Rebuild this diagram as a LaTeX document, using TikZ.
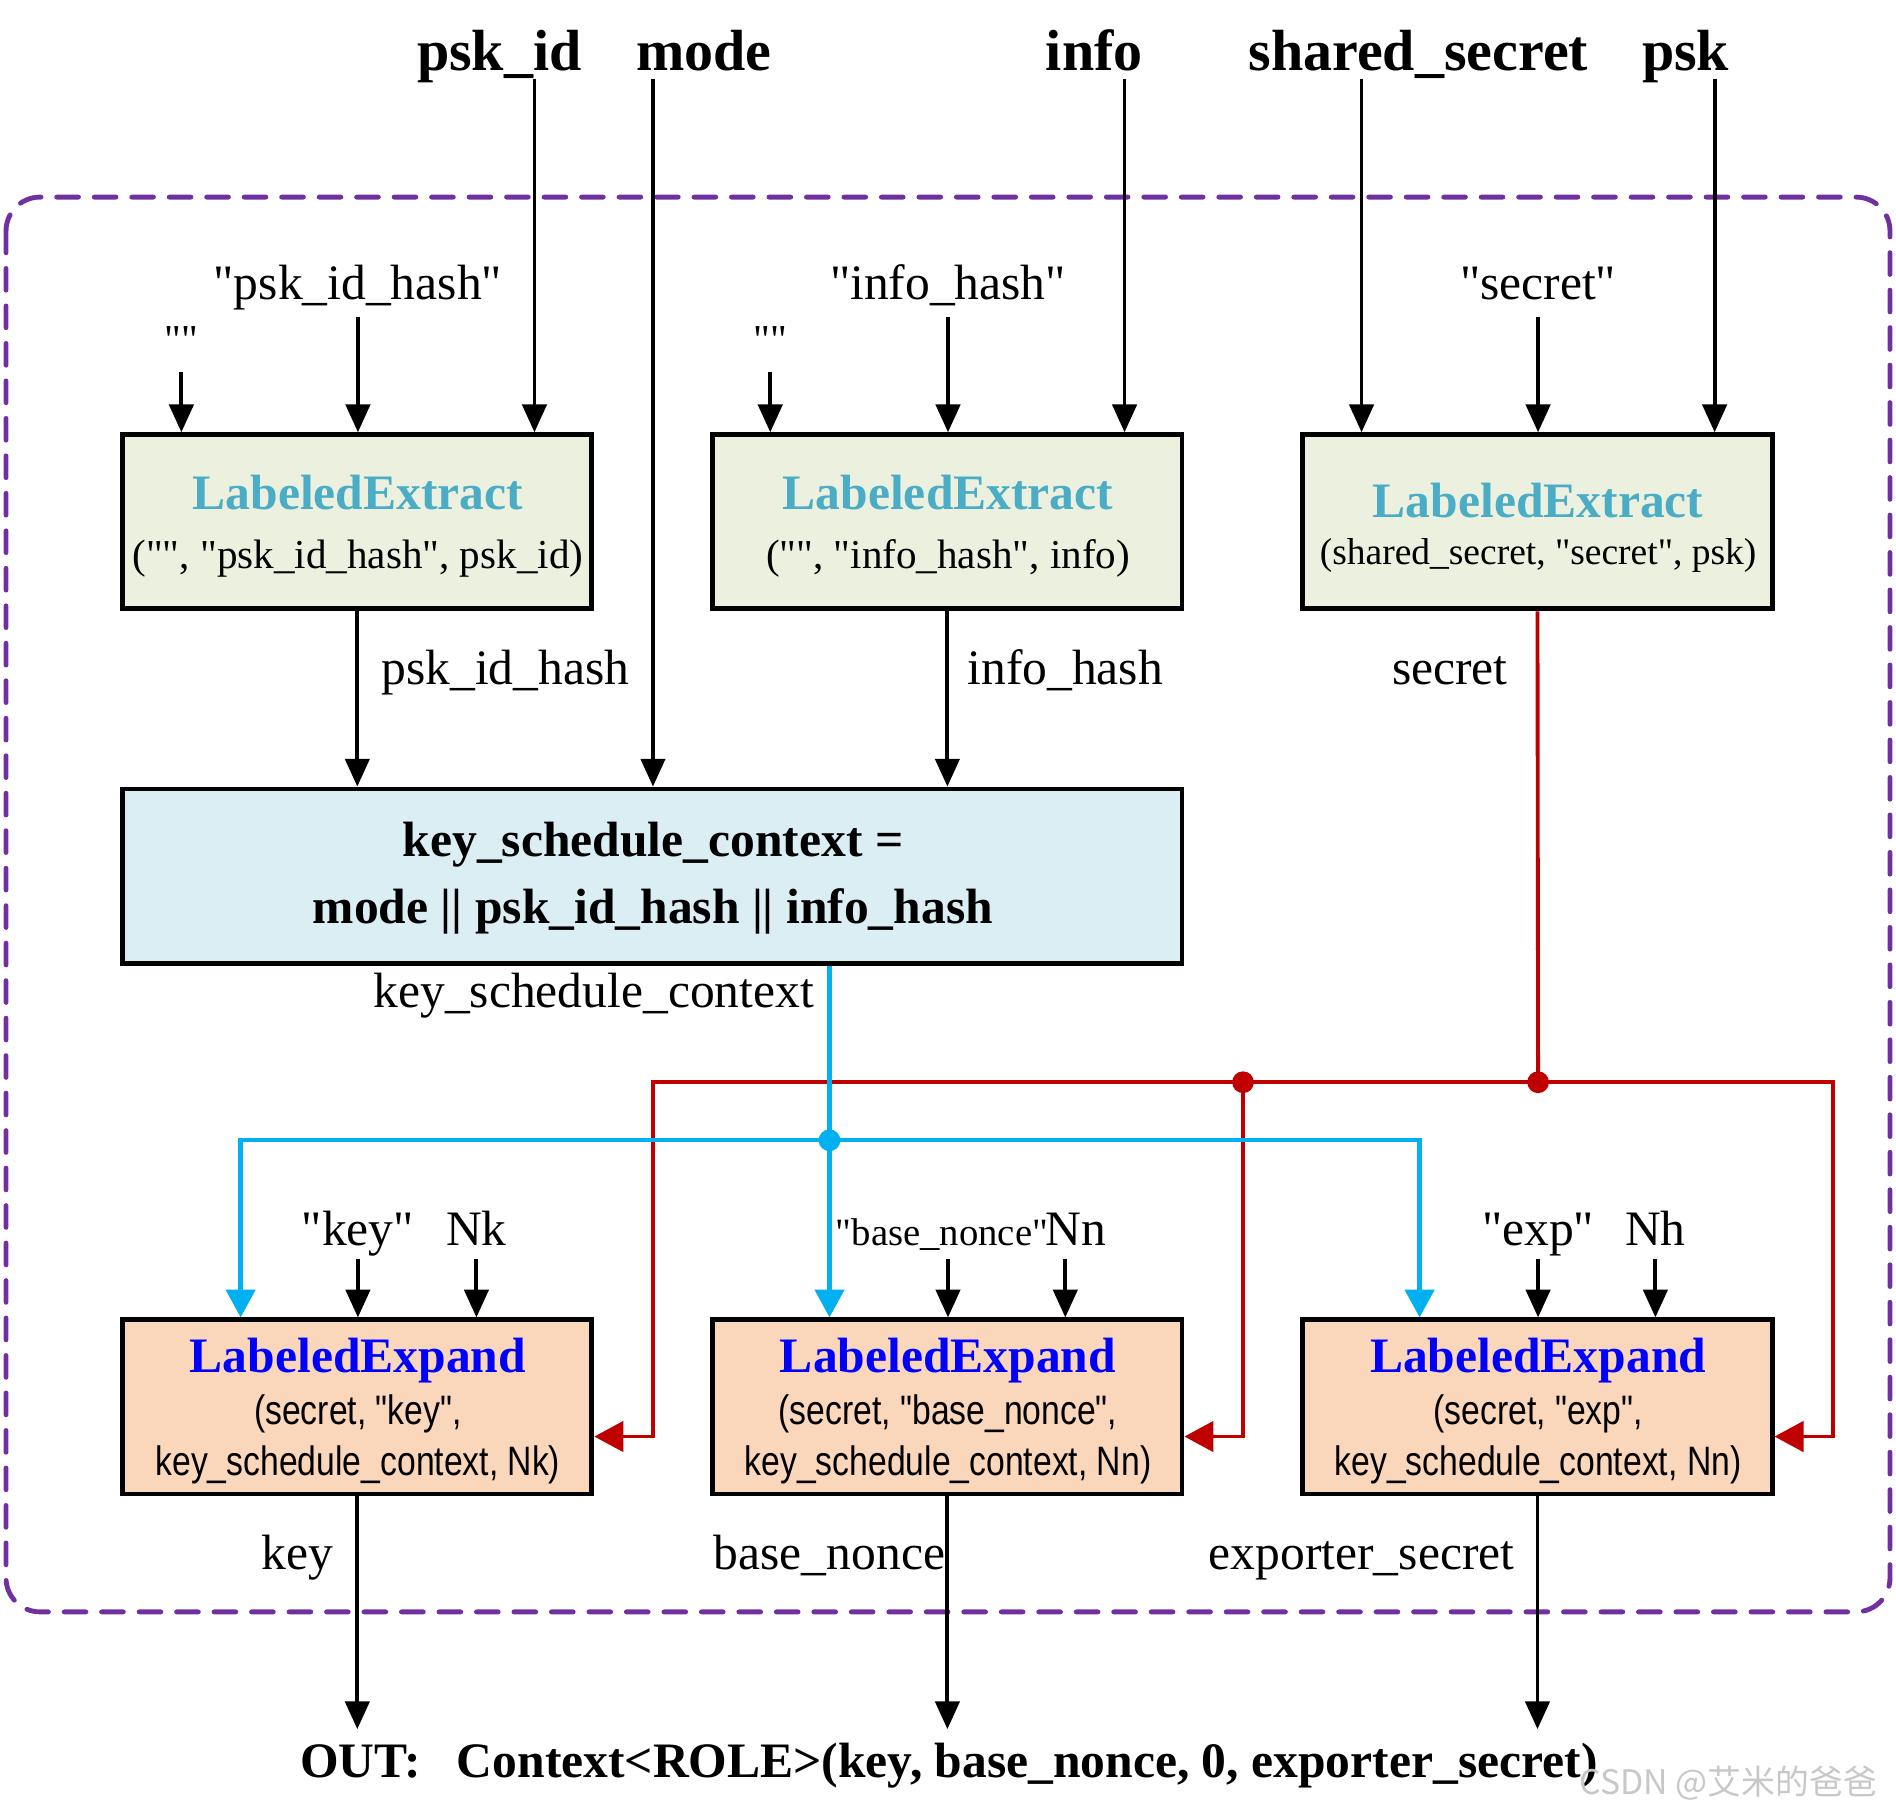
\documentclass[tikz,border=0pt]{standalone}
\usepackage{fontspec}
\setmainfont{Liberation Serif}[Ligatures=TeXOff]
\newfontfamily\narrowsans[FakeStretch=0.82,Ligatures=TeXOff]{Liberation Sans}
\newfontfamily\cjkfont{Noto Sans CJK SC}
\usetikzlibrary{arrows.meta}
\definecolor{dpurple}{HTML}{7030A0}
\definecolor{efill}{HTML}{EBF1DE}
\definecolor{kfill}{HTML}{DAEEF3}
\definecolor{xfill}{HTML}{FAD7BA}
\definecolor{etitle}{HTML}{4BACC6}
\definecolor{xtitle}{HTML}{0000FF}
\definecolor{dred}{HTML}{C00000}
\definecolor{lblue}{HTML}{00B0F0}
\definecolor{wmark}{HTML}{C8C8C8}
\tikzset{
  boxbase/.style={draw=black, line width=2pt, inner sep=0pt, minimum height=72pt},
  ebox/.style={boxbase, fill=efill, minimum width=194pt},
  xbox/.style={boxbase, fill=xfill, minimum width=194pt},
  kbox/.style={boxbase, fill=kfill, minimum width=438pt},
  txt/.style={inner sep=0pt, anchor=base, font=\fontsize{20.5}{24}\selectfont},
  toplbl/.style={inner sep=0pt, anchor=base, font=\fontsize{24}{28}\selectfont\bfseries},
  etit/.style={txt, text=etitle, font=\fontsize{20.5}{24}\selectfont\bfseries},
  xtit/.style={txt, text=xtitle, font=\fontsize{20.5}{24}\selectfont\bfseries},
  eargs/.style={inner sep=0pt, anchor=base, font=\fontsize{17}{20}\selectfont},
  xargs/.style={inner sep=0pt, anchor=base, font=\fontsize{17}{20}\narrowsans},
  smalllbl/.style={inner sep=0pt, anchor=base, font=\fontsize{17}{20}\selectfont},
  arr/.style={draw=black, line width=1.6pt, -{Triangle[length=11.5pt,width=10pt]}},
  redline/.style={draw=dred, line width=1.6pt},
  redarr/.style={redline, -{Triangle[length=12pt,width=12.5pt]}},
  blueline/.style={draw=lblue, line width=1.8pt},
  bluearr/.style={blueline, -{Triangle[length=11.5pt,width=12pt]}},
}
\begin{document}
\begin{tikzpicture}[x=0.5pt,y=-0.5pt]
\useasboundingbox (0,0) rectangle (1568,1501);

% dashed frame
\draw[dpurple, line width=2pt, line cap=round, dash pattern=on 9pt off 6.5pt, rounded corners=14pt] (5,163) rectangle (1563,1333);

% top labels
\node[toplbl] (tpskid) at (413,58) {psk\_id};
\node[toplbl] (tmode) at (582,58) {mode};
\node[toplbl] (tinfo) at (905,58) {info};
\node[toplbl] (tss) at (1173,58) {shared\_secret};
\node[toplbl] (tpsk) at (1394,58) {psk};

% boxes
\node[ebox] (e1) at (295.5,431.5) {};
\node[ebox] (e2) at (783.5,431.5) {};
\node[ebox] (e3) at (1271.5,431.5) {};
\node[kbox] (ks) at (539.5,724.5) {};
\node[xbox] (x1) at (295.5,1163.5) {};
\node[xbox] (x2) at (783.5,1163.5) {};
\node[xbox] (x3) at (1271.5,1163.5) {};

% box texts
\node[etit] (e1t) at (296,421) {LabeledExtract};
\node[eargs] (e1a) at (296,470) {("", "psk\_id\_hash", psk\_id)};
\node[etit] (e2t) at (784,421) {LabeledExtract};
\node[eargs] (e2a) at (784,470) {("", "info\_hash", info)};
\node[etit] (e3t) at (1272,428) {LabeledExtract};
\node[inner sep=0pt, anchor=base, font=\fontsize{15.5}{18}\selectfont] (e3a) at (1272,467) {(shared\_secret, "secret", psk)};

\node[txt, font=\fontsize{20.5}{24}\selectfont\bfseries] (ks1) at (540,708) {key\_schedule\_context =};
\node[txt, font=\fontsize{20.5}{24}\selectfont\bfseries] (ks2) at (540,764) {mode || psk\_id\_hash || info\_hash};

\node[xtit] (x1t) at (296,1135) {LabeledExpand};
\node[xargs] (x1a) at (296,1178) {(secret, "key",};
\node[xargs] (x1b) at (296,1220) {key\_schedule\_context, Nk)};
\node[xtit] (x2t) at (784,1135) {LabeledExpand};
\node[xargs] (x2a) at (784,1178) {(secret, "base\_nonce",};
\node[xargs] (x2b) at (784,1220) {key\_schedule\_context, Nn)};
\node[xtit] (x3t) at (1272,1135) {LabeledExpand};
\node[xargs] (x3a) at (1272,1178) {(secret, "exp",};
\node[xargs] (x3b) at (1272,1220) {key\_schedule\_context, Nn)};

% input labels
\node[smalllbl] (q1l) at (150,292) {""};
\node[txt] (q2l) at (296,248) {"psk\_id\_hash"};
\node[smalllbl] (q3l) at (637,292) {""};
\node[txt] (q4l) at (784,248) {"info\_hash"};
\node[txt] (q5l) at (1272,248) {"secret"};

% intermediate labels
\node[txt] (lpih) at (418,566) {psk\_id\_hash};
\node[txt] (lih) at (881,566) {info\_hash};
\node[txt] (lsec) at (1199,566) {secret};
\node[txt] (lksc) at (491,833) {key\_schedule\_context};

\node[txt] (lkey) at (296,1030) {"key"};
\node[txt] (lnk) at (394,1030) {Nk};
\node[inner sep=0pt, anchor=base, font=\fontsize{16}{19}\selectfont] (lbn) at (779,1030) {"base\_nonce"};
\node[txt] (lnn) at (890,1030) {Nn};
\node[txt] (lexp) at (1272,1030) {"exp"};
\node[txt] (lnh) at (1369,1030) {Nh};

\node[txt] (okey) at (246,1298) {key};
\node[txt] (obn) at (686,1298) {base\_nonce};
\node[txt] (oes) at (1126,1298) {exporter\_secret};

\node[txt, anchor=base west, font=\fontsize{20.5}{24}\selectfont\bfseries] (out) at (248,1470) {OUT:\hspace{15pt}Context<ROLE>(key, base\_nonce, 0, exporter\_secret)};

\node[inner sep=0pt, anchor=base west, text=wmark, font=\fontsize{14}{17}\cjkfont] (wm) at (1306,1484) {CSDN @艾米的爸爸};

% coordinates
\coordinate (i1) at (442,65);
\coordinate (i2) at (540,65);
\coordinate (i3) at (930,65);
\coordinate (i4) at (1126,65);
\coordinate (i5) at (1418,65);
\coordinate (q1) at (150,308);
\coordinate (q2) at (296,262);
\coordinate (q3) at (637,308);
\coordinate (q4) at (784,262);
\coordinate (q5) at (1272,262);
\coordinate (k1) at (296,1041);
\coordinate (k2) at (394,1041);
\coordinate (k3) at (784,1041);
\coordinate (k4) at (881,1041);
\coordinate (k5) at (1272,1041);
\coordinate (k6) at (1369,1041);
\coordinate (ob) at (0,1430);
\coordinate (rj1) at (1028,895);
\coordinate (rj2) at (1272,895);
\coordinate (rL) at (540,895);
\coordinate (rR) at (1516,895);
\coordinate (ry) at (0,1188);
\coordinate (bj) at (686,943);
\coordinate (bL) at (199,943);
\coordinate (bR) at (1174,943);

% top inputs
\draw[arr] (i1) -- (i1 |- e1.north);
\draw[arr] (i2) -- (i2 |- ks.north);
\draw[arr] (i3) -- (i3 |- e2.north);
\draw[arr] (i4) -- (i4 |- e3.north);
\draw[arr] (i5) -- (i5 |- e3.north);
\draw[arr] (q1) -- (q1 |- e1.north);
\draw[arr] (q2) -- (q2 |- e1.north);
\draw[arr] (q3) -- (q3 |- e2.north);
\draw[arr] (q4) -- (q4 |- e2.north);
\draw[arr] (q5) -- (q5 |- e3.north);

% extract -> ks
\draw[arr] (e1.south) -- (e1.south |- ks.north);
\draw[arr] (e2.south) -- (e2.south |- ks.north);

% red secret
\draw[redline] (e3.south) -- (rj2);
\draw[redarr] (rj2) -- (rL) -- (rL |- ry) -- (x1.east |- ry);
\draw[redarr] (rj2) -- (rR) -- (rR |- ry) -- (x3.east |- ry);
\draw[redarr] (rj1) -- (rj1 |- ry) -- (x2.east |- ry);
\fill[dred] (rj1) circle (4.5pt);
\fill[dred] (rj2) circle (4.5pt);

% blue context
\draw[blueline] (bj |- ks.south) -- (bj);
\draw[bluearr] (bj) -- (bj |- x2.north);
\draw[bluearr] (bj) -- (bL) -- (bL |- x1.north);
\draw[bluearr] (bj) -- (bR) -- (bR |- x3.north);
\fill[lblue] (bj) circle (4.5pt);

% expand inputs
\draw[arr] (k1) -- (k1 |- x1.north);
\draw[arr] (k2) -- (k2 |- x1.north);
\draw[arr] (k3) -- (k3 |- x2.north);
\draw[arr] (k4) -- (k4 |- x2.north);
\draw[arr] (k5) -- (k5 |- x3.north);
\draw[arr] (k6) -- (k6 |- x3.north);

% outputs
\draw[arr] (x1.south) -- (x1.south |- ob);
\draw[arr] (x2.south) -- (x2.south |- ob);
\draw[arr] (x3.south) -- (x3.south |- ob);
\end{tikzpicture}
\end{document}
